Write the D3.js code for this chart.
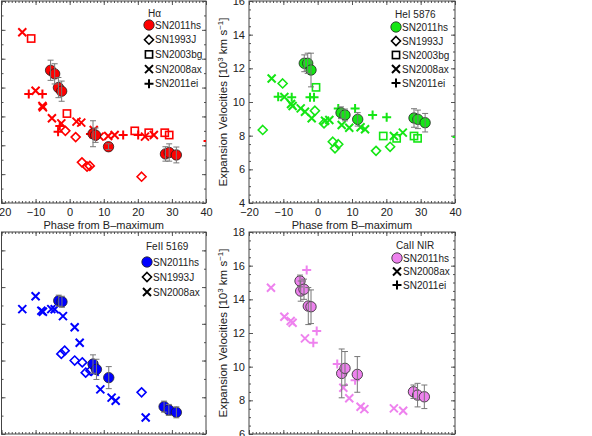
<!DOCTYPE html>
<html>
<head>
<meta charset="utf-8">
<script src="https://cdn.jsdelivr.net/npm/d3@7"></script>
<style>
  body { margin: 0; background: #fff; }
  text { font-family: "Liberation Sans", Arial, sans-serif; fill: #222; }
</style>
</head>
<body>
<div id="chart"></div>
<script>
// phase (days), velocity (10^3 km/s), error
const haSN2011hs = [[-5.6,17.2,0.7],[-4.4,16.95,0.7],[-3.3,16.0,0.7],[-2.35,15.75,0.7],[6.85,12.8,0.9],[7.6,12.7,0.5],[11.4,11.9,0.2],[28.1,11.4,0.5],[29.2,11.5,0.6],[31.3,11.33,0.55]];
const haSN1993J = [[-1.26,13.0],[1.76,12.57],[3.6,10.82],[5.1,10.52],[5.9,10.57],[21.1,9.82]];
const haSN2003bg = [[-11.3,19.4],[-0.8,14.2],[19.1,13.0],[23.2,12.87],[27.9,12.87],[29.2,12.71]];
const haSN2008ax = [[-13.9,19.83],[-10,15.78],[-8.0,14.72],[-7.85,14.63],[-5.2,13.87],[-2.45,13.52],[2.0,13.64],[3.4,13.57],[7.06,13.06],[8.8,12.6],[11.3,12.64],[13.2,12.71],[22.1,12.6],[24.7,12.71]];
const haSN2011ei = [[-12,15.56],[-8,15.56],[-2.9,13.34],[-3.4,12.94],[6.1,12.78],[15.7,12.71],[20.1,12.71],[40.6,12.3]];

const heSN2011hs = [[-3.9,12.3,0.5],[-2.9,12.3,0.6],[-1.94,11.9,1.0],[6.8,9.36,0.35],[7.96,9.23,0.35],[11.66,8.97,0.4],[28.06,9.05,0.55],[29.2,8.97,0.55],[31.3,8.77,0.55]];
const heSN1993J = [[-16,8.34],[-10.2,11.1],[-0.8,9.48],[1.85,8.73],[4.4,7.64],[5.05,7.25],[6.0,7.49],[17.0,7.1],[21.1,7.34]];
const heSN2003bg = [[-0.48,10.87],[19.1,7.98],[23.0,7.84],[28.06,7.98],[29.1,7.84]];
const heSN2008ax = [[-13.4,11.4],[-9.7,10.3],[-7.76,9.88],[-7.3,9.76],[-4.94,9.62],[-3.7,9.42],[-1.74,9.03],[2.14,8.89],[3.4,8.93],[7.0,8.63],[9.2,8.47],[12.5,8.5],[13.8,8.38],[22.2,7.98],[24.8,8.18]];
const heSN2011ei = [[-11.5,10.31],[-7.56,10.28],[-2.23,10.28],[-1.06,10.28],[6.0,9.62],[10.9,9.62],[16.0,9.23],[20.1,9.09],[40.6,7.92]];

const feSN2011hs = [[-3.2,11.26,0.3],[-2.26,11.2,0.3],[6.85,7.81,0.5],[7.85,7.52,0.55],[11.47,7.07,0.6],[27.7,5.49,0.3],[29.1,5.31,0.3],[31.3,5.18,0.3]];
const feSN1993J = [[-2.45,8.36],[-1.47,8.54],[1.47,8.0],[3.7,7.9],[4.7,7.34],[6.1,7.45],[21.1,6.27]];
const feSN2008ax = [[-13.9,10.8],[-10,11.5],[-8.3,10.71],[-7.85,10.66],[-5.4,10.8],[-4.4,10.79],[-1.97,10.42],[1.47,9.81],[2.94,8.97],[7.35,7.39],[9.0,6.43],[12.3,5.98],[13.5,5.81],[22.3,4.9]];

const caSN2011hs = [[-5.14,15.09,0.35],[-4.94,14.49,0.6],[-3.98,14.6,0.6],[-2.73,13.6,1.1],[-1.94,13.56,1.0],[7.0,9.6,1.45],[7.96,9.9,1.0],[11.55,9.54,1.06],[27.9,8.51,0.4],[29.1,8.31,0.7],[31.07,8.21,0.7]];
const caSN2008ax = [[-13.6,14.69],[-9.7,12.97],[-7.86,12.71],[-7.3,12.61],[-3.7,11.68],[7.47,8.75],[9.2,8.12],[12.5,7.62],[13.6,7.48],[22.2,7.52],[24.9,7.38]];
const caSN2011ei = [[-3.2,15.74],[-0.28,12.12],[-1.27,11.42],[5.7,10.16],[10.9,9.2]];

const xTicks = [-20, -10, 0, 10, 20, 30, 40];
const xLabel = "Phase from B\u2013maximum";

const panels = [
  { title: "H\u03b1", color: "#ff0000", x0: 1.5, x1: 206, y0: 1, y1: 203, yDomain: [8, 22], yMinor: 1,
    legend: { sx: 149, tx: 155, ty: 13, ey: 25, dy: 14.7 }, xAxisTitle: true,
    series: [
      { name: "SN2011hs", sym: "circle", data: haSN2011hs },
      { name: "SN1993J", sym: "diamond", data: haSN1993J },
      { name: "SN2003bg", sym: "square", data: haSN2003bg },
      { name: "SN2008ax", sym: "x", data: haSN2008ax },
      { name: "SN2011ei", sym: "plus", data: haSN2011ei }] },
  { title: "HeI 5876", color: "#14e614", x0: 249, x1: 455, y0: 1, y1: 203, yDomain: [4, 16], yMinor: 0.5,
    legend: { sx: 396, tx: 402, ty: 14, ey: 27, dy: 14 }, xAxisTitle: true, yTitle: true,
    series: [
      { name: "SN2011hs", sym: "circle", data: heSN2011hs },
      { name: "SN1993J", sym: "diamond", data: heSN1993J },
      { name: "SN2003bg", sym: "square", data: heSN2003bg },
      { name: "SN2008ax", sym: "x", data: heSN2008ax },
      { name: "SN2011ei", sym: "plus", data: heSN2011ei }] },
  { title: "FeII 5169", color: "#0000ff", x0: 1.5, x1: 206, y0: 232, y1: 434, yDomain: [4, 15], yMinor: 1,
    legend: { sx: 147, tx: 153, ty: 246, ey: 262, dy: 15 },
    series: [
      { name: "SN2011hs", sym: "circle", data: feSN2011hs },
      { name: "SN1993J", sym: "diamond", data: feSN1993J },
      { name: "SN2008ax", sym: "x", data: feSN2008ax }] },
  { title: "CaII NIR", color: "#ee82ee", x0: 249, x1: 455, y0: 232, y1: 434, yDomain: [6, 18], yMinor: 0.5,
    legend: { sx: 397, tx: 403, ty: 245, ey: 258, dy: 13.5 }, yTitle: true,
    series: [
      { name: "SN2011hs", sym: "circle", data: caSN2011hs },
      { name: "SN2008ax", sym: "x", data: caSN2008ax },
      { name: "SN2011ei", sym: "plus", data: caSN2011ei }] }
];

const svg = d3.select("#chart").append("svg")
  .attr("width", 592).attr("height", 436);

function drawSymbol(g, sym, x, y, color) {
  if (sym === "circle") {
    g.append("circle").attr("cx", x).attr("cy", y).attr("r", 5.2)
      .attr("fill", color).attr("stroke", "#222").attr("stroke-width", 0.8);
  } else if (sym === "diamond") {
    const s = 4.5;
    g.append("path").attr("d", `M${x},${y - s}L${x + s},${y}L${x},${y + s}L${x - s},${y}Z`)
      .attr("fill", "none").attr("stroke", color).attr("stroke-width", 1.6);
  } else if (sym === "square") {
    g.append("rect").attr("x", x - 3.6).attr("y", y - 3.6).attr("width", 7.2).attr("height", 7.2)
      .attr("fill", "none").attr("stroke", color).attr("stroke-width", 1.6);
  } else if (sym === "x") {
    const s = 4;
    g.append("path").attr("d", `M${x - s},${y - s}L${x + s},${y + s}M${x - s},${y + s}L${x + s},${y - s}`)
      .attr("stroke", color).attr("stroke-width", 2);
  } else if (sym === "plus") {
    const s = 4.5;
    g.append("path").attr("d", `M${x - s},${y}L${x + s},${y}M${x},${y - s}L${x},${y + s}`)
      .attr("stroke", color).attr("stroke-width", 2);
  }
}

panels.forEach((p, i) => {
  const x = d3.scaleLinear().domain([-20, 40]).range([p.x0, p.x1]);
  const y = d3.scaleLinear().domain(p.yDomain).range([p.y1, p.y0]);
  const g = svg.append("g");

  // ticks on all four sides, pointing inward
  const yMajor = d3.range(p.yDomain[0], p.yDomain[1] + 0.001, 2);
  const yMin = d3.range(p.yDomain[0], p.yDomain[1] + 0.001, p.yMinor);
  const xMin = d3.range(-20, 40.001, 1);
  const axes = [
    [d3.axisBottom(x).tickValues(xMin).tickSize(-2).tickFormat(""), `translate(0,${p.y1})`],
    [d3.axisBottom(x).tickValues(xTicks).tickSize(-4).tickPadding(5).tickFormat(d3.format("d")), `translate(0,${p.y1})`],
    [d3.axisTop(x).tickValues(xMin).tickSize(-2).tickFormat(""), `translate(0,${p.y0})`],
    [d3.axisTop(x).tickValues(xTicks).tickSize(-4).tickFormat(""), `translate(0,${p.y0})`],
    [d3.axisLeft(y).tickValues(yMin).tickSize(-2).tickFormat(""), `translate(${p.x0},0)`],
    [d3.axisLeft(y).tickValues(yMajor).tickSize(-4).tickPadding(4).tickFormat(d3.format("d")), `translate(${p.x0},0)`],
    [d3.axisRight(y).tickValues(yMin).tickSize(-2).tickFormat(""), `translate(${p.x1},0)`],
    [d3.axisRight(y).tickValues(yMajor).tickSize(-4).tickFormat(""), `translate(${p.x1},0)`]
  ];
  axes.forEach(([ax, tr]) => {
    const a = g.append("g").attr("transform", tr).call(ax);
    a.select(".domain").remove();
    a.selectAll("line").attr("stroke", "#555");
    a.selectAll("text").attr("font-size", 11).attr("fill", "#222")
      .attr("font-family", "Liberation Sans, Arial, sans-serif");
  });

  g.append("rect").attr("x", p.x0).attr("y", p.y0)
    .attr("width", p.x1 - p.x0).attr("height", p.y1 - p.y0)
    .attr("fill", "none").attr("stroke", "#444").attr("stroke-width", 1);

  if (p.xAxisTitle) {
    g.append("text").attr("x", (p.x0 + p.x1) / 2).attr("y", p.y1 + 26)
      .attr("text-anchor", "middle").attr("font-size", 11).text(xLabel);
  }
  if (p.yTitle) {
    const t = g.append("text")
      .attr("transform", `translate(${p.x0 - 22},${(p.y0 + p.y1) / 2}) rotate(-90)`)
      .attr("text-anchor", "middle").attr("font-size", 11.5);
    t.append("tspan").text("Expansion Velocities [10");
    t.append("tspan").attr("dy", -4).attr("font-size", 8).text("3");
    t.append("tspan").attr("dy", 4).text(" km s");
    t.append("tspan").attr("dy", -4).attr("font-size", 8).text("\u22121");
    t.append("tspan").attr("dy", 4).text("]");
  }

  // markers: comparison objects first, then SN2011hs with error bars on top
  const clipId = "clip" + i;
  svg.append("clipPath").attr("id", clipId).append("rect")
    .attr("x", p.x0).attr("y", p.y0).attr("width", p.x1 - p.x0).attr("height", p.y1 - p.y0);
  const m = g.append("g").attr("clip-path", `url(#${clipId})`);
  p.series.slice(1).forEach(s => {
    s.data.forEach(d => drawSymbol(m, s.sym, x(d[0]), y(d[1]), p.color));
  });
  const main = p.series[0];
  main.data.forEach(d => drawSymbol(m, "circle", x(d[0]), y(d[1]), p.color));
  main.data.forEach(d => {
    const cx = x(d[0]), ya = y(d[1] - d[2]), yb = y(d[1] + d[2]);
    m.append("path")
      .attr("d", `M${cx},${ya}L${cx},${yb}M${cx - 3},${ya}L${cx + 3},${ya}M${cx - 3},${yb}L${cx + 3},${yb}`)
      .attr("stroke", "#777").attr("stroke-width", 1).attr("fill", "none");
  });

  // legend
  const L = p.legend;
  g.append("text").attr("x", L.tx - 7).attr("y", L.ty + 4).attr("font-size", 10).text(p.title);
  p.series.forEach((s, k) => {
    const ey = L.ey + k * L.dy;
    drawSymbol(g, s.sym, L.sx, ey, s.sym === "circle" ? p.color : "#000");
    g.append("text").attr("x", L.tx).attr("y", ey + 3.5).attr("font-size", 10).text(s.name);
  });
});
</script>
</body>
</html>
